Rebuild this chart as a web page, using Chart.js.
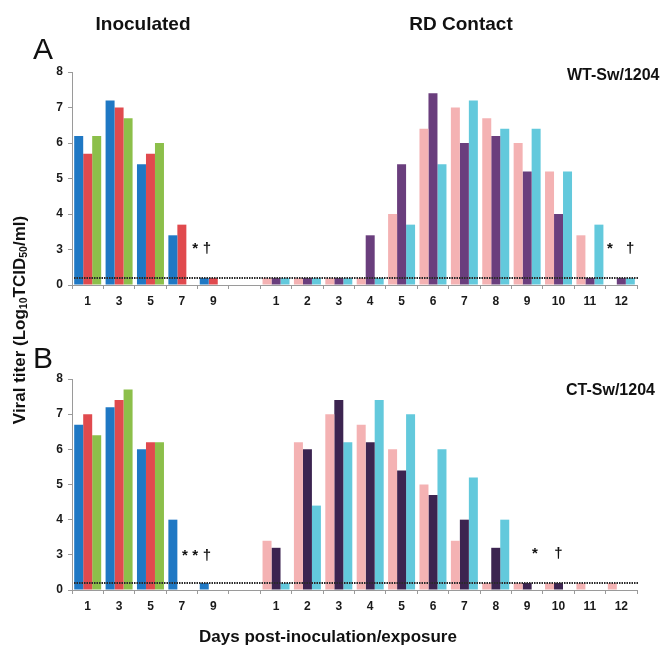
<!DOCTYPE html>
<html>
<head>
<meta charset="utf-8">
<script src="https://cdn.jsdelivr.net/npm/chart.js@4.4.1/dist/chart.umd.min.js"></script>
<style>
  html, body { margin: 0; padding: 0; background: #fff; }
  #wrap { position: relative; width: 666px; height: 646px; overflow: hidden; font-family: "Liberation Sans", Arial, sans-serif; color: #111; }
  canvas { position: absolute; left: 0; }
  .t { position: absolute; white-space: nowrap; transform: translate(-50%, -50%); font-weight: bold; line-height: 1; }
  .l { position: absolute; white-space: nowrap; transform: translateY(-50%); line-height: 1; }
  sub { font-size: 0.62em; vertical-align: -0.25em; line-height: 0; }
</style>
</head>
<body>
<div id="wrap">
  <canvas id="cA" width="666" height="320" style="top:0"></canvas>
  <canvas id="cB" width="666" height="326" style="top:320px"></canvas>
  <div class="t" style="left:143px; top:23px; font-size:19px;">Inoculated</div>
  <div class="t" style="left:461px; top:23px; font-size:19px;">RD Contact</div>
  <div class="l" style="left:33px; top:49px; font-size:30px;">A</div>
  <div class="l" style="left:33px; top:358px; font-size:30px;">B</div>
  <div class="l" style="left:567px; top:75px; font-size:16px; font-weight:bold;">WT-Sw/1204</div>
  <div class="l" style="left:566px; top:390px; font-size:16px; font-weight:bold;">CT-Sw/1204</div>
  <div class="t" style="left:19px; top:320px; font-size:17px; transform: translate(-50%,-50%) rotate(-90deg);">Viral titer (Log<sub>10</sub>TCID<sub>50</sub>/ml)</div>
  <div class="t" style="left:328px; top:636px; font-size:17px;">Days post-inoculation/exposure</div>
</div>
<script>
// ---- data (log10 TCID50/ml); LOD = bar drawn at detection limit; null = no bar ----
const LOD = 0.6;
const inocDays = ['1', '3', '5', '7', '9'];
const contactDays = ['1', '2', '3', '4', '5', '6', '7', '8', '9', '10', '11', '12'];
const yTickLabels = [0, 3, 4, 5, 6, 7, 8]; // broken axis: 0 then 3..8

// Panel A: WT-Sw/1204
const aInocBlue   = [6.2, 7.2, 5.4, 3.4, LOD];
const aInocRed    = [5.7, 7.0, 5.7, 3.7, LOD];
const aInocGreen  = [6.2, 6.7, 6.0, null, null];
const aContPink   = [LOD, LOD, LOD, LOD, 4.0, 6.4, 7.0, 6.7, 6.0, 5.2, 3.4, null];
const aContPurple = [LOD, LOD, LOD, 3.4, 5.4, 7.4, 6.0, 6.2, 5.2, 4.0, LOD, LOD];
const aContCyan   = [LOD, LOD, LOD, LOD, 3.7, 5.4, 7.2, 6.4, 6.4, 5.2, 3.7, LOD];

// Panel B: CT-Sw/1204
const bInocBlue   = [6.7, 7.2, 6.0, 4.0, LOD];
const bInocRed    = [7.0, 7.4, 6.2, null, null];
const bInocGreen  = [6.4, 7.7, 6.2, null, null];
const bContPink   = [3.4, 6.2, 7.0, 6.7, 6.0, 5.0, 3.4, LOD, LOD, LOD, LOD, LOD];
const bContPurple = [3.2, 6.0, 7.4, 6.2, 5.4, 4.7, 4.0, 3.2, LOD, LOD, null, null];
const bContCyan   = [LOD, 4.4, 6.2, 7.4, 7.0, 6.0, 5.2, 4.0, null, null, null, null];

// annotation symbols: category index (fractional) and titer level on the axis
const aNotes = [{t: '*', i: 3.42, v: 0.9}, {t: '\u2020', i: 3.80, v: 0.9},
                {t: '*', i: 16.64, v: 0.9}, {t: '\u2020', i: 17.28, v: 0.9}];
const bNotes = [{t: '*', i: 3.10, v: 0.85}, {t: '*', i: 3.42, v: 0.85}, {t: '\u2020', i: 3.80, v: 0.85},
                {t: '*', i: 14.25, v: 0.92}, {t: '\u2020', i: 15.0, v: 0.92}];

// ---- helpers ----
const labels = [...inocDays, '', ...contactDays];
// broken axis: 0..3 compressed into one unit, then linear
const toAxis = v => v == null ? null : (v >= 3 ? v - 2 : v / 3);
const joinSeries = (inoc, cont) => [...inoc, null, ...cont].map(toAxis);
const colorArr = (inocC, contC) => labels.map((_, i) => i < inocDays.length ? inocC : (i === inocDays.length ? 'rgba(0,0,0,0)' : contC));

const FONT = '"Liberation Sans", Arial, sans-serif';
const AXIS = '#9a9a9a';

const overlay = {
  id: 'overlay',
  afterDatasetsDraw(chart, args, opts) {
    const {ctx, chartArea, scales: {x, y}} = chart;
    const py = Math.round(y.getPixelForValue(toAxis(LOD)));
    ctx.save();
    ctx.strokeStyle = '#2a2a2a';
    ctx.lineWidth = 2;
    ctx.setLineDash([1.5, 1]);
    ctx.beginPath();
    ctx.moveTo(chartArea.left + 2, py);
    ctx.lineTo(chartArea.right + 2, py);
    ctx.stroke();
    ctx.setLineDash([]);
    ctx.fillStyle = '#111';
    ctx.font = 'bold 15px ' + FONT;
    ctx.textAlign = 'center';
    ctx.textBaseline = 'alphabetic';
    (opts.notes || []).forEach(n => {
      ctx.fillText(n.t, x.getPixelForValue(n.i), y.getPixelForValue(n.v));
    });
    ctx.restore();
  }
};

function makeChart(id, series, colors, notes, padTop, xHeight) {
  const datasets = series.map((s, k) => ({
    data: joinSeries(s[0], s[1]),
    backgroundColor: colorArr(colors[k][0], colors[k][1]),
    borderWidth: 0,
    barPercentage: 1.0,
    categoryPercentage: 0.86
  }));
  return new Chart(document.getElementById(id), {
    type: 'bar',
    data: {labels, datasets},
    plugins: [overlay],
    options: {
      responsive: false,
      animation: false,
      devicePixelRatio: 1,
      layout: {padding: {top: padTop, left: 0, right: 29, bottom: 0}},
      plugins: {legend: {display: false}, tooltip: {enabled: false}, overlay: {notes}},
      scales: {
        x: {
          type: 'category',
          grid: {offset: true, drawOnChartArea: false, drawTicks: true, tickLength: 4, color: AXIS},
          border: {display: true, color: AXIS, width: 1},
          ticks: {autoSkip: false, maxRotation: 0, padding: 5, color: '#1a1a1a',
                  font: {family: FONT, size: 12, weight: 'bold'}},
          afterFit: s => { s.height = xHeight; }
        },
        y: {
          min: 0, max: 6,
          grid: {drawOnChartArea: false, drawTicks: true, tickLength: 4, color: AXIS},
          border: {display: true, color: AXIS, width: 1},
          ticks: {stepSize: 1, padding: 5, color: '#1a1a1a',
                  font: {family: FONT, size: 12, weight: 'bold'},
                  callback: v => yTickLabels[v]},
          afterFit: s => { s.width = 72; }
        }
      }
    }
  });
}

makeChart('cA',
  [[aInocBlue, aContPink], [aInocRed, aContPurple], [aInocGreen, aContCyan]],
  [['#1f78c4', '#f4b2b3'], ['#e04a4e', '#6a3e7d'], ['#8cbf4a', '#63c9dc']],
  aNotes, 72, 35);

makeChart('cB',
  [[bInocBlue, bContPink], [bInocRed, bContPurple], [bInocGreen, bContCyan]],
  [['#1f78c4', '#f4b2b3'], ['#e04a4e', '#3c2450'], ['#8cbf4a', '#63c9dc']],
  bNotes, 59, 56);
</script>
</body>
</html>
